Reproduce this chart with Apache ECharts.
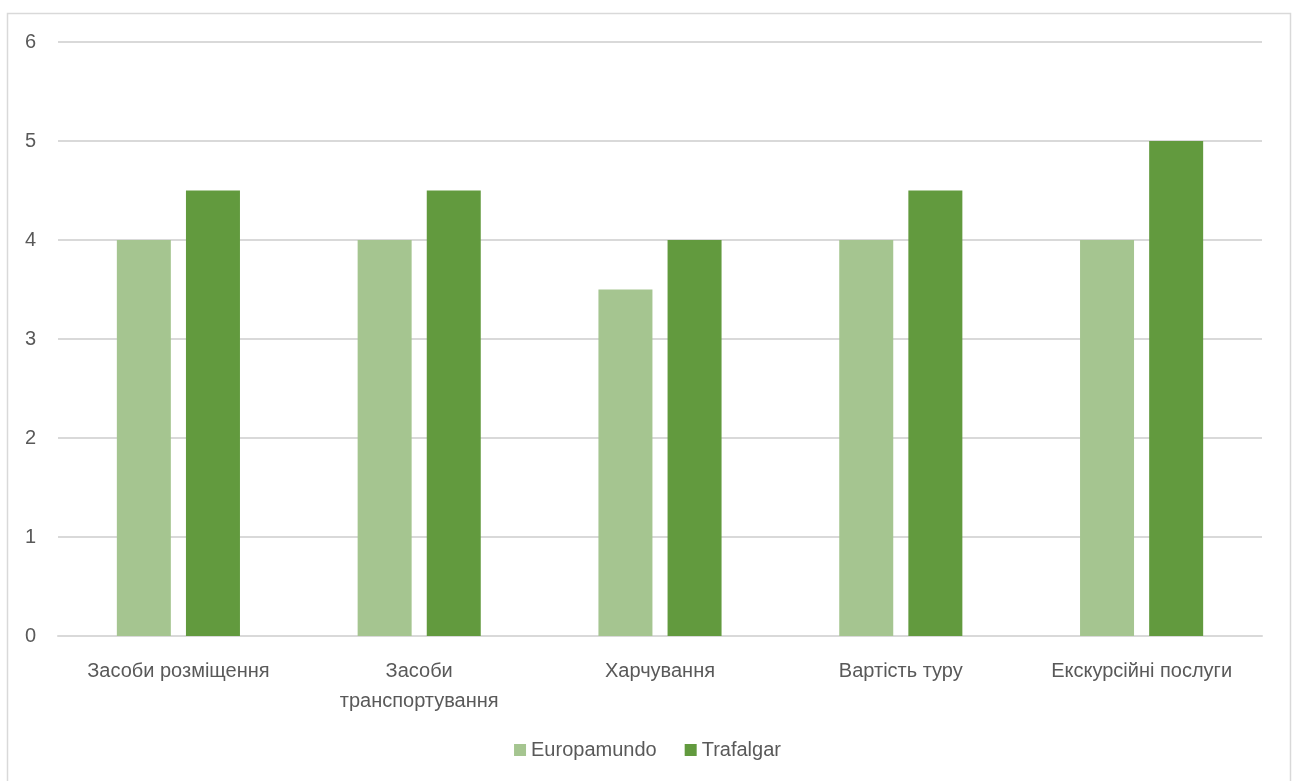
<!DOCTYPE html>
<html>
<head>
<meta charset="utf-8">
<script src="https://cdn.jsdelivr.net/npm/echarts@6/dist/echarts.min.js"></script>
<style>
html,body{margin:0;padding:0;background:#fff;}
#c{width:1295px;height:781px;}
</style>
</head>
<body>
<div id="c"></div>
<script>
var categories = ['Засоби розміщення', 'Засоби\nтранспортування', 'Харчування', 'Вартість туру', 'Екскурсійні послуги'];
var europamundo = [4, 4, 3.5, 4, 4];
var trafalgar = [4.5, 4.5, 4, 4.5, 5];
var seriesNames = ['Europamundo', 'Trafalgar'];

var chart = echarts.init(document.getElementById('c'));
var font = 'Liberation Sans, Arial, sans-serif';
chart.setOption({
  animation: false,
  backgroundColor: '#fff',
  textStyle: { fontFamily: font },
  graphic: [{
    type: 'rect',
    shape: { x: 7.5, y: 13.5, width: 1283, height: 800 },
    style: { fill: 'none', stroke: '#d9d9d9', lineWidth: 1.5 },
    silent: true
  }],
  grid: { left: 58, right: 33, top: 42, bottom: 145 },
  legend: {
    bottom: 16,
    left: 'center',
    itemWidth: 12,
    itemHeight: 12,
    itemGap: 28,
    icon: 'rect',
    textStyle: { color: '#595959', fontSize: 20, fontFamily: font },
    data: seriesNames
  },
  xAxis: {
    type: 'category',
    data: categories,
    axisLine: { lineStyle: { color: '#d9d9d9', width: 2 } },
    axisTick: { show: false },
    axisLabel: { color: '#595959', fontSize: 20, margin: 20, lineHeight: 30, interval: 0, fontFamily: font }
  },
  yAxis: {
    type: 'value',
    min: 0, max: 6, interval: 1,
    axisLine: { show: false },
    axisTick: { show: false },
    splitLine: { lineStyle: { color: '#d9d9d9', width: 2 } },
    axisLabel: { color: '#595959', fontSize: 20, margin: 22, fontFamily: font }
  },
  series: [
    { name: seriesNames[0], type: 'bar', data: europamundo, barWidth: 54, barGap: '28%', itemStyle: { color: '#a5c590' } },
    { name: seriesNames[1], type: 'bar', data: trafalgar, barWidth: 54, barGap: '28%', itemStyle: { color: '#629a3e' } }
  ]
});
</script>
</body>
</html>
